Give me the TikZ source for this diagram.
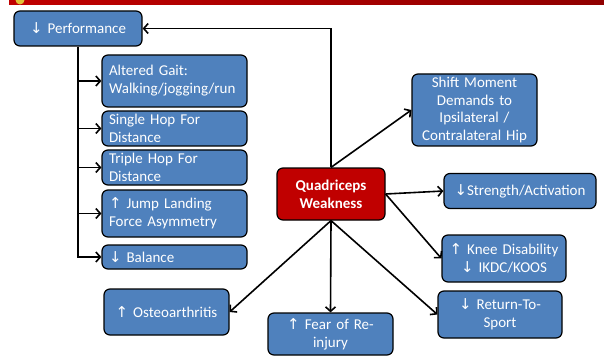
\documentclass[tikz,border=0pt]{standalone}
\usepackage{fontspec}
\setmainfont{Carlito}
\newfontfamily\arrfont{DejaVu Sans}
\newcommand{\ua}{{\arrfont\fontsize{15}{15}\selectfont ↑}}
\newcommand{\da}{{\arrfont\fontsize{15}{15}\selectfont ↓}}
\usetikzlibrary{arrows.meta}
\definecolor{boxblue}{HTML}{4F81BD}
\definecolor{boxred}{HTML}{C00000}
\tikzset{
  box/.style={draw=black, line width=1.2pt, fill=boxblue, rounded corners=6pt, text=white,
    font=\fontsize{15}{18}\selectfont, inner xsep=8pt, inner ysep=0pt},
  lbox/.style={box, align=left},
  cbox/.style={box, align=center},
  redbox/.style={box, fill=boxred, align=center, font=\fontsize{15}{18}\selectfont\bfseries},
  conn/.style={line width=1.6pt, -{Straight Barb[length=4.5pt,width=10pt,line width=1.6pt]}},
  plain/.style={line width=1.6pt}
}
\begin{document}
\begin{tikzpicture}[x=1pt,y=-1pt]
\useasboundingbox (0,0) rectangle (604,358);
% top bar
\shade[left color=boxred, right color=boxred!75!black] (9,-1) rectangle (604,5);
\fill[yellow!50!brown] (20,0) circle (4.5);
% nodes
\node[cbox, minimum width=124pt, minimum height=35pt, text width=112pt] (perf) at (78,28.5) {\da\ Performance};
\node[lbox, minimum width=145pt, minimum height=52pt, text width=131pt, inner xsep=7pt] (gait) at (174.5,81) {Altered Gait:\\Walking/jogging/run};
\node[lbox, minimum width=145pt, minimum height=35pt, text width=131pt, inner xsep=7pt] (single) at (174.5,128.5) {Single Hop For\\Distance};
\node[lbox, minimum width=145pt, minimum height=35pt, text width=131pt, inner xsep=7pt] (triple) at (174.5,167.5) {Triple Hop For\\Distance};
\node[lbox, minimum width=145pt, minimum height=47pt, text width=131pt, inner xsep=7pt] (jump) at (174.5,213.5) {\ua\ Jump Landing\\Force Asymmetry};
\node[lbox, minimum width=145pt, minimum height=24pt, text width=131pt, inner xsep=7pt] (bal) at (174.5,257) {\da\ Balance};
\node[cbox, minimum width=125pt, minimum height=46pt, text width=113pt, inner xsep=6pt] (osteo) at (166.5,312) {\ua\ Osteoarthritis};
\node[cbox, minimum width=125pt, minimum height=42pt, text width=113pt, inner xsep=6pt] (fear) at (330.5,334) {\ua\ Fear of Re-\\injury};
\node[redbox, minimum width=108pt, minimum height=52pt, text width=96pt, inner xsep=6pt] (quad) at (331,194) {Quadriceps\\Weakness};
\node[cbox, minimum width=125pt, minimum height=72pt, text width=119pt, inner xsep=3pt, font=\fontsize{15}{17.5}\selectfont] (shift) at (474.5,110) {Shift Moment\\Demands to\\Ipsilateral /\\Contralateral Hip};
\node[cbox, minimum width=152pt, minimum height=35pt, text width=140pt, inner xsep=6pt] (str) at (520,191) {\da Strength/Activation};
\node[cbox, minimum width=124pt, minimum height=47pt, text width=112pt, inner xsep=6pt] (knee) at (504,258.5) {\ua\ Knee Disability\\\da\ IKDC/KOOS};
\node[cbox, minimum width=124pt, minimum height=47pt, text width=112pt, inner xsep=6pt] (ret) at (500,314.5) {\da\ Return-To-\\Sport};
% connectors
\draw[conn] (quad.north) -- (quad.north |- perf.east) -- (perf.east);
\draw[conn] (perf.south) |- (bal.west);
\draw[conn] (perf.south |- gait.west) -- (gait.west);
\draw[conn] (perf.south |- single.west) -- (single.west);
\draw[conn] (perf.south |- triple.west) -- (triple.west);
\draw[conn] (perf.south |- jump.west) -- (jump.west);
\draw[conn] (quad.north) -- (shift.west);
\draw[conn] (quad.east) -- (str.west);
\draw[conn] (quad.east) -- (knee.west);
\draw[conn] (quad.south) -- (ret.west);
\draw[conn] (quad.south) -- (osteo.east);
\draw[conn] (quad.south) -- (fear.north);
\end{tikzpicture}
\end{document}
